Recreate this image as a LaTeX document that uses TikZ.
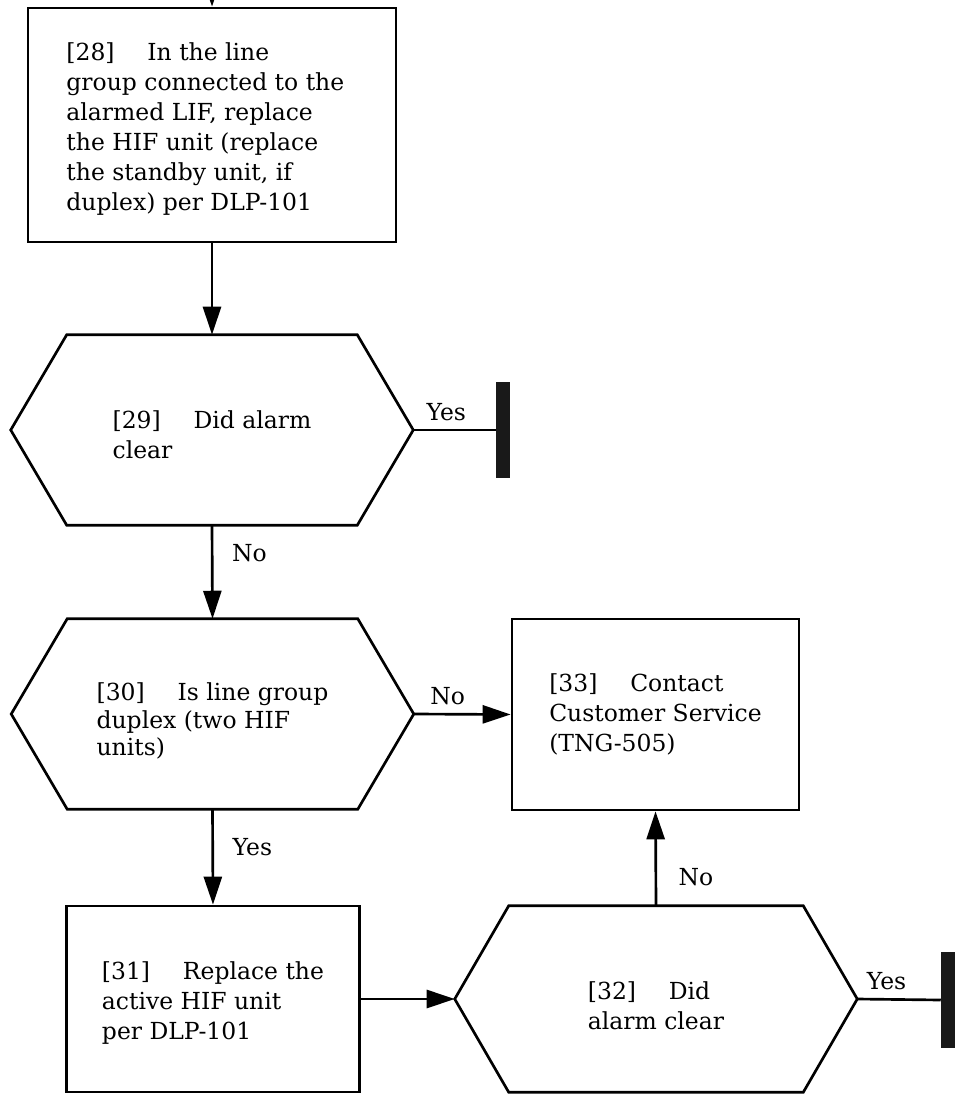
\documentclass[tikz,border=0pt]{standalone}
\usepackage{fontspec}
\setmainfont{DejaVu Serif}
\usetikzlibrary{arrows.meta,calc}
% outline of a left/right pointing decision hexagon around a node
\newcommand\hexaround[2]{%
  \draw[hexline] ($(#1.north west)+(#2,0)$) -- ($(#1.north east)-(#2,0)$) -- (#1.east)
    -- ($(#1.south east)-(#2,0)$) -- ($(#1.south west)+(#2,0)$) -- (#1.west) -- cycle;}
% invisible strut that lowers a centred text block a little
\newcommand\topgap[1]{\rule{0pt}{#1}}
\begin{document}
\begin{tikzpicture}[x=0.75pt,y=-0.75pt,
  every node/.style={font=\fontsize{17.6}{22.5}\selectfont},
  stepbox/.style={draw, line width=2pt, align=left, inner sep=0pt},
  decision/.style={align=left, inner sep=0pt},
  hexline/.style={line width=2pt, line join=miter},
  flow/.style={line width=2pt, -{Triangle[length=21pt,width=13.5pt]}},
  plain/.style={line width=2pt},
  stopbar/.style={fill=black!90, draw=none, inner sep=0pt,
    minimum width=14*0.75pt, minimum height=96*0.75pt},
  lbl/.style={inner sep=2pt}
]
\useasboundingbox (0,0) rectangle (955,1094);

% process steps
\node[stepbox, minimum width=368*0.75pt, minimum height=234*0.75pt] (b28) at (212,125)
  {\topgap{20pt}[28]\hspace{1.4em}In the line\\group connected to the\kern10pt\\alarmed LIF, replace\\the HIF unit (replace\\the standby unit, if\\duplex) per DLP-101};
\node[stepbox, minimum width=287*0.75pt, minimum height=191*0.75pt] (b33) at (655.5,714.5)
  {[33]\hspace{1.4em}Contact\\Customer Service\\(TNG-505)};
\node[stepbox, minimum width=293*0.75pt, minimum height=186*0.75pt] (b31) at (213,999)
  {\topgap{20pt}[31]\hspace{1.4em}Replace the\\active HIF unit\\per DLP-101};

% decisions
\node[decision, minimum width=402*0.75pt, minimum height=190*0.75pt] (d29) at (212,430)
  {\topgap{20pt}[29]\hspace{1.4em}Did alarm\\clear};
\node[decision, minimum width=402*0.75pt, minimum height=190*0.75pt,
      font=\fontsize{17.6}{20.8}\selectfont] (d30) at (212.5,714)
  {\topgap{24pt}[30]\hspace{1.4em}Is line group\\duplex (two HIF\\units)};
\node[decision, minimum width=402*0.75pt, minimum height=186*0.75pt] (d32) at (656,999)
  {\topgap{23pt}[32]\hspace{1.4em}Did\\alarm clear};
\hexaround{d29}{56}
\hexaround{d30}{56}
\hexaround{d32}{54}

% end-of-procedure bars
\node[stopbar] (t29) at (503,430) {};
\node[stopbar] (t32) at (948,1000) {};

% entry from the previous step
\coordinate (in28) at (212,-40);
\draw[flow] (in28) -- (b28.north);

% connectors
\draw[flow] (b28.south) -- (d29.north);
\draw[plain] (d29.east) -- node[lbl, above=4pt, pos=0.4] {Yes} (t29.west);
\draw[flow] (d29.south) -- node[lbl, right=12pt, pos=0.3] {No} (d30.north);
\draw[flow] (d30.east) -- node[lbl, above=4pt, pos=0.35] {No} (b33.west);
\draw[flow] (d30.south) -- node[lbl, right=12pt, pos=0.4] {Yes} (b31.north);
\draw[flow] (b31.east) -- (d32.west);
\draw[flow] (d32.north) -- node[lbl, right=14pt, pos=0.3] {No} (b33.south);
\draw[plain] (d32.east) -- node[lbl, above=4pt, pos=0.35] {Yes} (t32.west);
\end{tikzpicture}
\end{document}
